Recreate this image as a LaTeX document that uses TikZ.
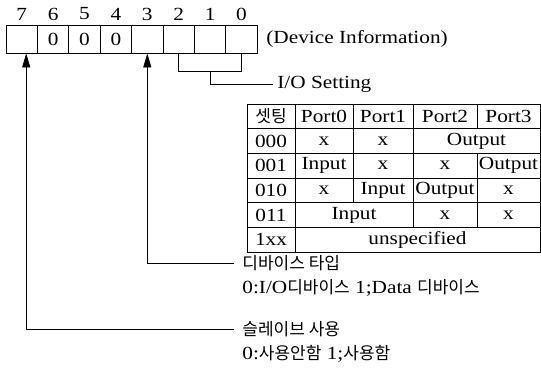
\documentclass[tikz,border=0pt]{standalone}
\usepackage{fontspec}
\setmainfont{Liberation Serif}[FakeStretch=1.15]
\newfontfamily\kr{Noto Sans CJK KR}
\newcommand{\kor}[1]{{\fontsize{17}{19}\selectfont\kr #1}}
\usetikzlibrary{arrows.meta,calc}

\begin{document}
\begin{tikzpicture}[x=1pt,y=-1pt,line width=0.8pt,>={Triangle[width=8pt,length=14pt]},
  bitcell/.style={draw,minimum width=31.4pt,minimum height=28pt,inner sep=0pt,font=\fontsize{18.5}{18}\selectfont},
  bitnum/.style={inner sep=0pt,font=\fontsize{18.5}{18}\selectfont},
  txt/.style={inner sep=0pt,anchor=west,font=\fontsize{18.5}{20}\selectfont},
  krtxt/.style={inner sep=0pt,anchor=west,font=\fontsize{17}{19}\selectfont\kr},
  cell/.style={inner sep=0pt,font=\fontsize{18.5}{18}\selectfont}]
  \useasboundingbox (0,0) rectangle (541,370);
  % register, bit 7 .. bit 0
  \foreach \b/\v in {7/,6/0,5/0,4/0,3/,2/,1/,0/} {
    \node[bitcell] (b\b) at ({6+31.4*(7.5-\b)},39) {\v};
    \node[bitnum] (n\b) at ({6+31.4*(7.5-\b)},14) {\b};
  }
  \node[txt] (devinfo) at (266,39) {(Device Information)};
  % bits 2..0
  \node[txt] (iotxt) at (277,84) {I/O Setting};
  \draw (b2.south) -- ++(0,18) -| (b0.south);
  \draw ($(b1.south)+(0,18)$) |- ([xshift=-4pt]iotxt.west);
  % setting table
  \draw (247,104) rectangle (540,252);
  \foreach \y in {128.7,153.3,178,202.7,227.3}
    \draw (247,\y) -- (540,\y);
  \draw (295,104) -- (295,252);
  \draw (353,104) -- (353,202.7);
  \draw (413,104) -- (413,227.3);
  \draw (477,104) -- (477,128.7) (477,153.3) -- (477,227.3);
  \node[cell] (hset) at (271,116.3) {\kor{셋팅}};
  \foreach \p/\x in {0/324,1/383,2/445,3/508.5}
    \node[cell] (hp\p) at (\x,116.3) {Port\p};
  % 000
  \node[cell] (s000) at (271,141) {000};
  \node[cell] (a000) at (324,141) {x};
  \node[cell] (b000) at (383,141) {x};
  \node[cell] (c000) at (476.5,141) {Output};
  % 001
  \node[cell] (s001) at (271,165.7) {001};
  \node[cell] (a001) at (324,165.7) {Input};
  \node[cell] (b001) at (383,165.7) {x};
  \node[cell] (c001) at (445,165.7) {x};
  \node[cell] (d001) at (508.5,165.7) {Output};
  % 010
  \node[cell] (s010) at (271,190.3) {010};
  \node[cell] (a010) at (324,190.3) {x};
  \node[cell] (b010) at (383,190.3) {Input};
  \node[cell] (c010) at (445,190.3) {Output};
  \node[cell] (d010) at (508.5,190.3) {x};
  % 011
  \node[cell] (s011) at (271,215) {011};
  \node[cell] (a011) at (354,215) {Input};
  \node[cell] (c011) at (445,215) {x};
  \node[cell] (d011) at (508.5,215) {x};
  % 1xx
  \node[cell] (s1xx) at (271,239.7) {1xx};
  \node[cell] (a1xx) at (417.5,239.7) {unspecified};
  % bit 3 and bit 7
  \node[krtxt] (devtype) at (242,263) {디바이스 타입};
  \node[txt] (devtypeval) at (242,288) {0:I/O\kor{디바이스} 1;Data \kor{디바이스}};
  \node[krtxt] (slave) at (242,329) {슬레이브 사용};
  \node[txt] (slaveval) at (242,354) {0:\kor{사용안함} 1;\kor{사용함}};
  \draw[->] ([xshift=-8pt]devtype.west) -| (b3.south);
  \draw[->] ([xshift=-8pt]slave.west) -| ([xshift=4.5pt]b7.south);
\end{tikzpicture}
\end{document}
